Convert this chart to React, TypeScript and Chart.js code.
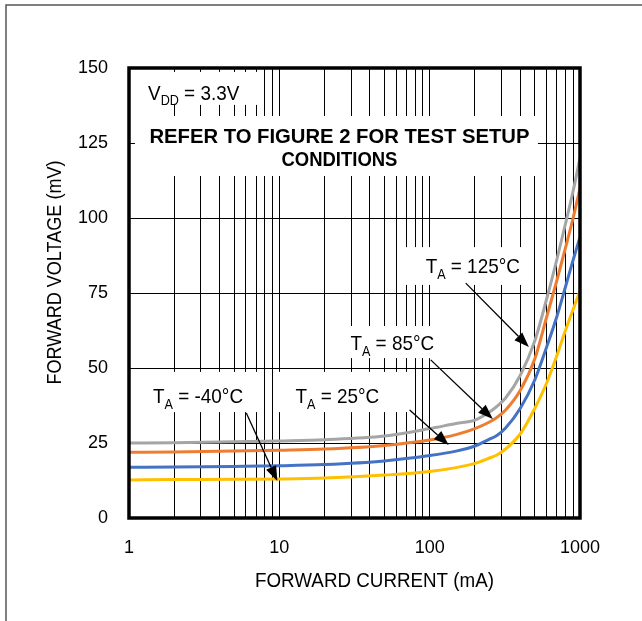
import { useEffect, useRef } from 'react';
import { Chart, registerables } from 'chart.js';

Chart.register(...registerables);

// ---- data (forward current in mA, forward voltage in mV) ----
const currents = [1, 2, 5, 10, 20, 50, 100, 150, 200, 250, 280, 320, 400, 500, 600, 700, 800, 900, 1000];
const v125 = [25, 25.1, 25.4, 25.7, 26.1, 27.3, 29.8, 31.5, 32.6, 35.3, 37.2, 40, 47.5, 59, 73, 86, 98, 109, 120];
const v85 = [21.9, 22, 22.3, 22.6, 23, 24.2, 26, 27.8, 29.8, 32, 33.5, 36, 42.5, 53, 67, 79, 90, 100, 110];
const v25 = [16.9, 17, 17.2, 17.4, 17.8, 19, 20.8, 22.3, 24, 26.3, 27.5, 30, 36.5, 46, 57, 67, 77, 86, 93.7];
const vm40 = [12.7, 12.8, 12.9, 13, 13.3, 14.3, 15.5, 16.8, 18.2, 20, 21, 23, 28, 36.5, 45, 54, 62.5, 69.5, 75.7];

const seriesNames = ['125°C', '85°C', '25°C', '-40°C'];
const xTickLabels = [1, 10, 100, 1000];
const xMinorSteps = [1, 2, 3, 4, 5, 6, 7, 8, 9];
const yTicks = [0, 25, 50, 75, 100, 125, 150];

const FONT = '"Liberation Sans", Arial, Helvetica, sans-serif';

// grid positions (every 1..9 in each decade)
const xGrid: number[] = [];
for (const d of [1, 10, 100]) for (const m of xMinorSteps) xGrid.push(d * m);
xGrid.push(1000);

// annotation layout in data units [mA, mV]
type Part = [string, number, number];
const labelItems: { parts: Part[]; at: [number, number] }[] = [
  { parts: [['V', 21, 0], ['DD', 14, 5], [' = 3.3V', 21, 0]], at: [1.339, 141.8] },
  { parts: [['T', 21, 0], ['A', 14, 6], [' = 125°C', 21, 0]], at: [94, 84.2] },
  { parts: [['T', 21, 0], ['A', 14, 6], [' = 85°C', 21, 0]], at: [29.7, 58.5] },
  { parts: [['T', 21, 0], ['A', 14, 6], [' = -40°C', 21, 0]], at: [1.445, 40.8] },
  { parts: [['T', 21, 0], ['A', 14, 6], [' = 25°C', 21, 0]], at: [12.8, 40.8] },
];
const noteLines: { text: string; at: [number, number]; width: number }[] = [
  { text: 'REFER TO FIGURE 2 FOR TEST SETUP', at: [25.1, 127.4], width: 380 },
  { text: 'CONDITIONS', at: [25.1, 119.7], width: 116 },
];
// white boxes [I0, V0, I1, V1]
const boxes: [number, number, number, number][] = [
  [1, 148.7, 7.47, 137.7],
  [1.096, 134, 525, 114],
  [69.2, 90.3, 493, 77.7],
  [25.5, 64, 127.9, 53.3],
  [1.22, 48.7, 7.7, 35.3],
  [9.55, 48.7, 74.7, 35.3],
];
// arrows [fromI, fromV, toI, toV]
const arrows: [number, number, number, number][] = [
  [173.8, 78.3, 457, 57],
  [101.6, 52.7, 263, 33],
  [73.6, 36, 133.9, 24.3],
  [6.03, 35, 9.7, 12.3],
];

function drawFit(ctx: CanvasRenderingContext2D, text: string, cx: number, cy: number, size: number, bold: boolean, width: number, rotate = false) {
  ctx.save();
  ctx.font = `${bold ? 'bold ' : ''}${size}px ${FONT}`;
  const m = ctx.measureText(text).width;
  const s = width / m;
  ctx.translate(cx, cy);
  if (rotate) ctx.rotate(-Math.PI / 2);
  ctx.scale(s, 1);
  ctx.textAlign = 'center';
  ctx.textBaseline = 'alphabetic';
  ctx.fillStyle = '#000';
  ctx.fillText(text, 0, 0.358 * size);
  ctx.restore();
}

function drawParts(ctx: CanvasRenderingContext2D, parts: Part[], x: number, cy: number, sx: number) {
  let cur = x;
  const base = cy + 0.358 * 21;
  for (const [t, size, dy] of parts) {
    ctx.save();
    ctx.font = `${size}px ${FONT}`;
    const w = ctx.measureText(t).width * sx;
    ctx.translate(cur, base + dy);
    ctx.scale(sx, 1);
    ctx.textAlign = 'left';
    ctx.textBaseline = 'alphabetic';
    ctx.fillStyle = '#000';
    ctx.fillText(t, 0, 0);
    ctx.restore();
    cur += w;
  }
}

function drawArrow(ctx: CanvasRenderingContext2D, x0: number, y0: number, x1: number, y1: number) {
  const dx = x1 - x0, dy = y1 - y0;
  const len = Math.hypot(dx, dy);
  const ux = dx / len, uy = dy / len;
  const hl = 15, hw = 5.5;
  const bx = x1 - ux * hl, by = y1 - uy * hl;
  ctx.save();
  ctx.strokeStyle = '#000';
  ctx.lineWidth = 1.3;
  ctx.beginPath();
  ctx.moveTo(x0, y0);
  ctx.lineTo(bx, by);
  ctx.stroke();
  ctx.fillStyle = '#000';
  ctx.beginPath();
  ctx.moveTo(x1, y1);
  ctx.lineTo(bx - uy * hw, by + ux * hw);
  ctx.lineTo(bx + uy * hw, by - ux * hw);
  ctx.closePath();
  ctx.fill();
  ctx.restore();
}

const overlayPlugin = {
  id: 'overlay',
  beforeDatasetsDraw(chart: any) {
    const ctx = chart.ctx as CanvasRenderingContext2D;
    const xs = chart.scales.x, ys = chart.scales.y;
    ctx.save();
    ctx.fillStyle = '#fff';
    for (const [i0, v0, i1, v1] of boxes) {
      const x0 = xs.getPixelForValue(i0), x1 = xs.getPixelForValue(i1);
      const y0 = ys.getPixelForValue(v0), y1 = ys.getPixelForValue(v1);
      ctx.fillRect(x0, y0, x1 - x0, y1 - y0);
    }
    ctx.restore();
  },
  afterDatasetsDraw(chart: any) {
    const ctx = chart.ctx as CanvasRenderingContext2D;
    const xs = chart.scales.x, ys = chart.scales.y;
    const a = chart.chartArea;
    // plot frame
    ctx.save();
    ctx.strokeStyle = '#000';
    ctx.lineWidth = 3.5;
    ctx.strokeRect(a.left, a.top, a.right - a.left, a.bottom - a.top);
    ctx.restore();
    // texts
    for (const l of labelItems) {
      drawParts(ctx, l.parts, xs.getPixelForValue(l.at[0]), ys.getPixelForValue(l.at[1]), 0.9);
    }
    for (const n of noteLines) {
      drawFit(ctx, n.text, xs.getPixelForValue(n.at[0]), ys.getPixelForValue(n.at[1]), 21, true, n.width);
    }
    for (const [i0, v0, i1, v1] of arrows) {
      drawArrow(ctx, xs.getPixelForValue(i0), ys.getPixelForValue(v0), xs.getPixelForValue(i1), ys.getPixelForValue(v1));
    }
    // axis titles
    drawFit(ctx, 'FORWARD CURRENT (mA)', (a.left + a.right) / 2 + 20, a.bottom + 61, 21, false, 239);
    drawFit(ctx, 'FORWARD VOLTAGE (mV)', 53.5, (a.top + a.bottom) / 2 - 20.5, 21, false, 224, true);
  },
  afterDraw(chart: any) {
    const ctx = chart.ctx as CanvasRenderingContext2D;
    ctx.save();
    ctx.strokeStyle = '#555';
    ctx.lineWidth = 1.5;
    ctx.beginPath();
    ctx.moveTo(6, chart.height);
    ctx.lineTo(6, 5);
    ctx.lineTo(chart.width, 5);
    ctx.stroke();
    ctx.restore();
  },
};

export default function App() {
  const ref = useRef<HTMLCanvasElement | null>(null);
  useEffect(() => {
    if (!ref.current) return;
    const colors = ['#A5A5A5', '#ED7D31', '#4472C4', '#FFC000'];
    const series = [v125, v85, v25, vm40];
    const chart = new Chart(ref.current, {
      type: 'line',
      data: {
        datasets: series.map((vals, k) => ({
          label: seriesNames[k],
          data: currents.map((c, i) => ({ x: c, y: vals[i] })),
          borderColor: colors[k],
          backgroundColor: colors[k],
          borderWidth: 3,
          pointRadius: 0,
          fill: false,
          cubicInterpolationMode: 'monotone' as const,
        })),
      },
      options: {
        animation: false,
        responsive: false,
        devicePixelRatio: 1,
        layout: { padding: { left: 0, right: 62, top: 68, bottom: 0 } },
        plugins: { legend: { display: false }, tooltip: { enabled: false } },
        scales: {
          x: {
            type: 'logarithmic',
            min: 1,
            max: 1000,
            afterBuildTicks: (s: any) => {
              s.ticks = xGrid.map((v) => ({ value: v, major: xTickLabels.includes(v) }));
            },
            afterFit: (s: any) => {
              s.height = 103;
            },
            ticks: {
              autoSkip: false,
              maxRotation: 0,
              padding: 19,
              color: '#000',
              font: { family: FONT, size: 18 },
              callback: (v: any) => (xTickLabels.includes(Number(v)) ? String(v) : ''),
            },
            grid: { color: '#000', lineWidth: 1, drawTicks: false },
            border: { display: false },
          },
          y: {
            type: 'linear',
            min: 0,
            max: 150,
            afterBuildTicks: (s: any) => {
              s.ticks = yTicks.map((v) => ({ value: v }));
            },
            afterFit: (s: any) => {
              s.width = 129;
            },
            ticks: {
              padding: 21,
              color: '#000',
              font: { family: FONT, size: 18 },
              callback: (v: any) => String(v),
            },
            grid: { color: '#000', lineWidth: 1, drawTicks: false },
            border: { display: false },
          },
        },
      },
      plugins: [overlayPlugin],
    });
    return () => chart.destroy();
  }, []);
  return (
    <div style={{ position: 'absolute', left: 0, top: 0, width: 642, height: 621, background: '#fff' }}>
      <canvas ref={ref} width={642} height={621} style={{ display: 'block' }} />
    </div>
  );
}
